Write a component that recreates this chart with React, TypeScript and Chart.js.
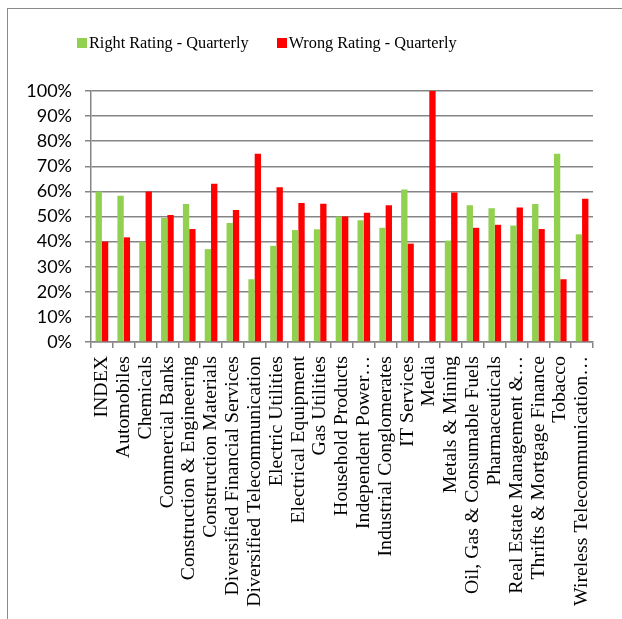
import React, { useEffect, useRef } from "react";
import { Chart, registerables } from "chart.js";

Chart.register(...registerables);

// Sector names along the x axis (long names are shortened with an ellipsis)
const categories: string[] = [
  "INDEX",
  "Automobiles",
  "Chemicals",
  "Commercial Banks",
  "Construction & Engineering",
  "Construction Materials",
  "Diversified Financial Services",
  "Diversified Telecommunication",
  "Electric Utilities",
  "Electrical Equipment",
  "Gas Utilities",
  "Household Products",
  "Independent Power\u2026",
  "Industrial Conglomerates",
  "IT Services",
  "Media",
  "Metals & Mining",
  "Oil, Gas & Consumable Fuels",
  "Pharmaceuticals",
  "Real Estate Management &\u2026",
  "Thrifts & Mortgage Finance",
  "Tobacco",
  "Wireless Telecommunication\u2026",
];

// Share of ratings (percent) per sector
const rightRating: number[] = [
  60, 58.3, 40, 49.4, 55, 37, 47.4, 25, 38.3, 44.6, 44.9, 50, 48.5, 45.5, 60.8, 0,
  40.4, 54.5, 53.3, 46.4, 55, 75, 42.9,
];
const wrongRating: number[] = [
  40, 41.7, 60, 50.6, 45, 63, 52.6, 75, 61.7, 55.4, 55.1, 50, 51.5, 54.5, 39.2, 100,
  59.6, 45.5, 46.7, 53.6, 45, 25, 57.1,
];

const seriesNames: string[] = ["Right Rating - Quarterly", "Wrong Rating - Quarterly"];
const seriesColors: string[] = ["#92D050", "#FF0000"];

const W = 622;
const H = 619;

export default function App() {
  const canvasRef = useRef<HTMLCanvasElement | null>(null);

  useEffect(() => {
    const canvas = canvasRef.current;
    if (!canvas) return;
    const chart = new Chart(canvas, {
      type: "bar",
      data: {
        labels: categories,
        datasets: [
          {
            label: seriesNames[0],
            data: rightRating,
            backgroundColor: seriesColors[0],
            borderWidth: 0,
            categoryPercentage: 0.58,
            barPercentage: 1,
          },
          {
            label: seriesNames[1],
            data: wrongRating,
            backgroundColor: seriesColors[1],
            borderWidth: 0,
            categoryPercentage: 0.58,
            barPercentage: 1,
          },
        ],
      },
      options: {
        responsive: false,
        animation: false,
        layout: { padding: { top: 91, right: 29, left: 0, bottom: 0 } },
        plugins: {
          legend: { display: false },
          tooltip: { enabled: false },
        },
        scales: {
          x: {
            afterFit: (scale: any) => {
              scale.height = H - 342;
            },
            grid: {
              display: true,
              offset: true,
              drawOnChartArea: false,
              drawTicks: true,
              tickLength: 6,
              color: "#858585",
              lineWidth: 1.5,
            },
            border: { display: true, color: "#858585", width: 1.5 },
            ticks: {
              autoSkip: false,
              maxRotation: 90,
              minRotation: 90,
              padding: 8,
              color: "#000000",
              font: { family: "'Liberation Serif', serif", size: 19.8 },
            },
          },
          y: {
            min: 0,
            max: 100,
            afterFit: (scale: any) => {
              scale.width = 91;
            },
            grid: {
              color: "#858585",
              lineWidth: 1.5,
              drawTicks: true,
              tickLength: 6,
            },
            border: { display: true, color: "#858585", width: 1.5 },
            ticks: {
              stepSize: 10,
              padding: 13,
              color: "#000000",
              font: { family: "Lato, sans-serif", size: 18 },
              callback: (v: any) => `${v}%`,
            },
          },
        },
      },
    });
    return () => chart.destroy();
  }, []);

  const legendItem = (name: string, color: string) => (
    <div style={{ display: "flex", alignItems: "center" }}>
      <span
        style={{
          display: "inline-block",
          width: 10,
          height: 10,
          background: color,
          marginRight: 2,
        }}
      />
      <span
        style={{
          fontFamily: "'Liberation Serif', serif",
          fontSize: 16.3,
          color: "#000",
          lineHeight: "18px",
        }}
      >
        {name}
      </span>
    </div>
  );

  return (
    <div style={{ position: "absolute", left: 0, top: 0, width: W, height: H, background: "#fff" }}>
      <div
        style={{
          position: "absolute",
          left: 7,
          top: 8,
          width: W - 8,
          height: H - 9,
          borderLeft: "1px solid #8a8a8a",
          borderTop: "1px solid #8a8a8a",
        }}
      />
      <canvas
        ref={canvasRef}
        width={W}
        height={H}
        style={{ position: "absolute", left: 0, top: 0, width: W, height: H }}
      />
      <div
        style={{
          position: "absolute",
          left: 77,
          top: 34,
          display: "flex",
          gap: 28,
        }}
      >
        {legendItem(seriesNames[0], seriesColors[0])}
        {legendItem(seriesNames[1], seriesColors[1])}
      </div>
    </div>
  );
}
